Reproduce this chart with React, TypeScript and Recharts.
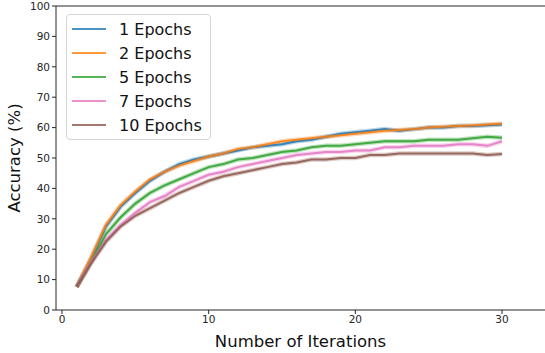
import React from "react";
import { LineChart, Line, XAxis, YAxis, ReferenceLine } from "recharts";

// x values (training iterations)
const iterations = [
  1, 2, 3, 4, 5, 6, 7, 8, 9, 10, 11, 12, 13, 14, 15, 16, 17, 18, 19, 20, 21,
  22, 23, 24, 25, 26, 27, 28, 29, 30,
];

// mean accuracy per run
const epochs1 = [
  7.6, 17, 27.5, 34, 38.5, 42.5, 45.5, 48, 49.5, 50.5, 51.5, 52.5, 53.5, 54,
  54.5, 55.5, 56, 57, 58, 58.5, 59, 59.5, 59, 59.5, 60, 60, 60.5, 60.5, 60.8, 61,
];
const epochs2 = [
  7.6, 17.5, 28, 34.5, 39, 43, 45.5, 47.5, 49, 50.5, 51.5, 53, 53.5, 54.5,
  55.5, 56, 56.5, 57, 57.5, 58, 58.5, 59, 59.2, 59.5, 60, 60.3, 60.5, 60.7, 61,
  61.3,
];
const epochs5 = [
  7.6, 16, 25, 30.5, 35, 38.5, 41, 43, 45, 47, 48, 49.5, 50, 51, 52, 52.5,
  53.5, 54, 54, 54.5, 55, 55.5, 55.5, 55.5, 56, 56, 56, 56.5, 57, 56.7,
];
const epochs7 = [
  7.6, 16, 23, 28, 32, 35.5, 37.5, 40.5, 42.5, 44.5, 45.5, 47, 48, 49, 50, 51,
  51.5, 52, 52, 52.5, 52.5, 53.5, 53.5, 54, 54, 54, 54.5, 54.5, 54, 55.5,
];
const epochs10 = [
  7.6, 15.5, 22.5, 27.5, 31, 33.5, 36, 38.5, 40.5, 42.5, 44, 45, 46, 47, 48,
  48.5, 49.5, 49.5, 50, 50, 51, 51, 51.5, 51.5, 51.5, 51.5, 51.5, 51.5, 51,
  51.3,
];

const seriesNames = ["1 Epochs", "2 Epochs", "5 Epochs", "7 Epochs", "10 Epochs"];
const seriesValues = [epochs1, epochs2, epochs5, epochs7, epochs10];
const seriesKeys = ["e1", "e2", "e5", "e7", "e10"];

const xTicks = [0, 10, 20, 30];
const yTicks = [0, 10, 20, 30, 40, 50, 60, 70, 80, 90, 100];

const colors = ["#1f77b4", "#ff7f0e", "#2ca02c", "#e377c2", "#8c564b"];

const chartData = iterations.map((it, i) => {
  const row: Record<string, number> = { iter: it };
  seriesKeys.forEach((k, s) => {
    row[k] = seriesValues[s][i];
  });
  return row;
});

const FONT = "DejaVu Sans, sans-serif";

// matplotlib-ish legend box, laid over the plot (upper left)
const LegendBox = () => (
  <div
    style={{
      position: "absolute",
      left: 66,
      top: 14,
      border: "1px solid #d6d6d6",
      borderRadius: 4,
      background: "rgba(255,255,255,0.8)",
      padding: "2px 8px 2px 5px",
      fontFamily: FONT,
      fontSize: 16,
      color: "#111",
    }}
  >
    {seriesNames.map((name, i) => (
      <div
        key={name}
        style={{ display: "flex", alignItems: "center", height: 24 }}
      >
        <div
          style={{
            width: 34,
            height: 2,
            background: colors[i],
            opacity: 0.8,
            marginRight: 13,
          }}
        />
        <span>{name}</span>
      </div>
    ))}
  </div>
);

export default function App() {
  return (
    <div
      style={{
        position: "absolute",
        left: 0,
        top: 0,
        width: 545,
        height: 353,
        background: "#fff",
      }}
    >
      <LineChart
        width={545}
        height={353}
        data={chartData}
        margin={{ top: 6, right: 0, left: 0, bottom: 0 }}
      >
        <XAxis
          dataKey="iter"
          type="number"
          domain={[-0.41, 32.93]}
          ticks={xTicks}
          allowDataOverflow
          height={43}
          tickSize={4}
          stroke="#262626"
          tick={{ fill: "#262626", fontSize: 10.5, fontFamily: FONT }}
          label={{
            value: "Number of Iterations",
            position: "insideBottom",
            offset: 6,
            style: { fill: "#111", fontSize: 16.5, fontFamily: FONT },
          }}
        />
        <YAxis
          type="number"
          domain={[0, 100]}
          ticks={yTicks}
          width={56}
          tickSize={4}
          stroke="#262626"
          tick={{ fill: "#262626", fontSize: 10.5, fontFamily: FONT }}
          label={{
            value: "Accuracy (%)",
            angle: -90,
            position: "insideLeft",
            offset: 14,
            style: {
              fill: "#111",
              fontSize: 16.5,
              fontFamily: FONT,
              textAnchor: "middle",
            },
          }}
        />
        <ReferenceLine y={100} stroke="#262626" strokeWidth={1} />
        {seriesKeys.map((k, i) => (
          <Line
            key={k + "-band"}
            dataKey={k}
            type="linear"
            stroke={colors[i]}
            strokeWidth={4.5}
            strokeOpacity={0.3}
            dot={false}
            legendType="none"
            isAnimationActive={false}
          />
        ))}
        {seriesKeys.map((k, i) => (
          <Line
            key={k}
            dataKey={k}
            name={seriesNames[i]}
            type="linear"
            stroke={colors[i]}
            strokeWidth={2}
            strokeOpacity={0.85}
            dot={false}
            isAnimationActive={false}
          />
        ))}
      </LineChart>
      <LegendBox />
    </div>
  );
}
